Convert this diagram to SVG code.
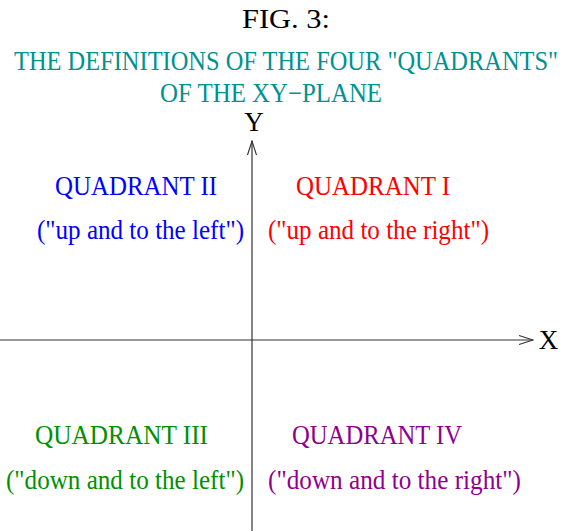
<svg xmlns="http://www.w3.org/2000/svg" width="573" height="531" viewBox="0 0 573 531">
<style>
text{font-family:"Liberation Serif","Times New Roman",serif;font-size:27px}
.ax{stroke:#333;stroke-width:1.2;fill:none}
</style>
<defs>
<marker id="arr" markerWidth="16" markerHeight="12" refX="15" refY="6" orient="auto" markerUnits="userSpaceOnUse">
<path d="M1,1.5 L15,6 L1,10.5" fill="none" stroke="#333" stroke-width="1.1"/>
</marker>
</defs>
<rect width="573" height="531" fill="#fff"/>
<g id="title">
<text x="242" y="28" font-size="28" fill="#000" textLength="88" lengthAdjust="spacingAndGlyphs">FIG. 3:</text>
<text x="286" y="70" font-size="24" text-anchor="middle" fill="#009191" textLength="544" lengthAdjust="spacingAndGlyphs">THE DEFINITIONS OF THE FOUR "QUADRANTS"</text>
<text x="160" y="102" fill="#009191" textLength="222" lengthAdjust="spacingAndGlyphs">OF THE XY−PLANE</text>
</g>
<g id="connectors">
<line class="ax" x1="252" y1="531" x2="252" y2="141" marker-end="url(#arr)"/>
<line class="ax" x1="0" y1="340" x2="533" y2="340" marker-end="url(#arr)"/>
</g>
<g id="axis-y"><text x="254" y="131" text-anchor="middle">Y</text></g>
<g id="axis-x"><text x="548.5" y="349" text-anchor="middle">X</text></g>
<g id="q2">
<text x="55" y="195" fill="#0000ff" textLength="162" lengthAdjust="spacingAndGlyphs">QUADRANT II</text>
<text x="37" y="239" fill="#0000ff" textLength="207" lengthAdjust="spacingAndGlyphs">("up and to the left")</text>
</g>
<g id="q1">
<text x="296" y="195" fill="#ff0000" textLength="154" lengthAdjust="spacingAndGlyphs">QUADRANT I</text>
<text x="268" y="239" fill="#ff0000" textLength="221" lengthAdjust="spacingAndGlyphs">("up and to the right")</text>
</g>
<g id="q3">
<text x="35" y="444" fill="#009000" textLength="173" lengthAdjust="spacingAndGlyphs">QUADRANT III</text>
<text x="6" y="489" fill="#009000" textLength="238" lengthAdjust="spacingAndGlyphs">("down and to the left")</text>
</g>
<g id="q4">
<text x="292" y="444" fill="#900090" textLength="170" lengthAdjust="spacingAndGlyphs">QUADRANT IV</text>
<text x="268" y="489" fill="#900090" textLength="253" lengthAdjust="spacingAndGlyphs">("down and to the right")</text>
</g>
</svg>
